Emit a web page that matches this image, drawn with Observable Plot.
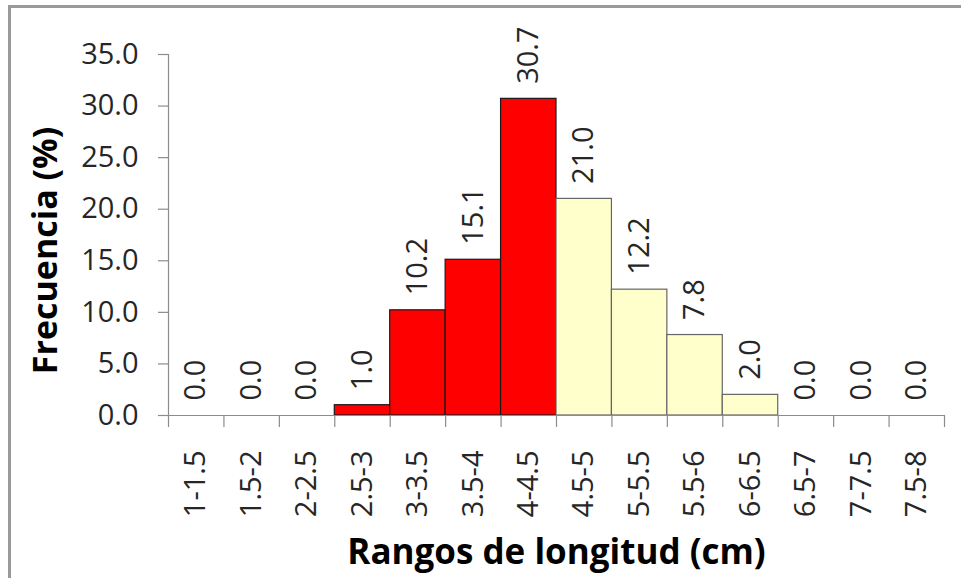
<!DOCTYPE html>
<html>
<head>
<meta charset="utf-8">
<script src="https://cdn.jsdelivr.net/npm/d3@7"></script>
<script src="https://cdn.jsdelivr.net/npm/@observablehq/plot@0.6"></script>
<style>
  html, body { margin: 0; padding: 0; background: #fff; }
  #wrap { position: relative; width: 961px; height: 578px; overflow: hidden; background: #fff; }
  #frame { position: absolute; left: 8px; top: 5px; width: 1000px; height: 1000px; border-left: 3px solid #9a9a9a; border-top: 3px solid #9a9a9a; box-sizing: border-box; pointer-events: none; }
  #chart { position: absolute; left: 0; top: 0; }
</style>
</head>
<body>
<div id="wrap"><div id="chart"></div><div id="frame"></div></div>
<script>
const categories = ["1-1.5","1.5-2","2-2.5","2.5-3","3-3.5","3.5-4","4-4.5","4.5-5","5-5.5","5.5-6","6-6.5","6.5-7","7-7.5","7.5-8"];
const values = [0.0, 0.0, 0.0, 1.0, 10.2, 15.1, 30.7, 21.0, 12.2, 7.8, 2.0, 0.0, 0.0, 0.0];
const groups = ["a","a","a","a","a","a","a","b","b","b","b","b","b","b"];
const yTicks = [0, 5, 10, 15, 20, 25, 30, 35];
const xTitle = "Rangos de longitud (cm)";
const yTitle = "Frecuencia (%)";

const data = categories.map((c, i) => ({cat: c, i, value: values[i], group: groups[i]}));
const font = "'Open Sans', sans-serif";

const chart = Plot.plot({
  width: 961,
  height: 578,
  marginLeft: 168,
  marginRight: 17,
  marginTop: 54,
  marginBottom: 163,
  style: {fontFamily: font, background: "transparent", overflow: "visible"},
  x: {domain: [0, categories.length], axis: null},
  y: {domain: [0, 35], axis: null},
  color: {domain: ["a", "b"], range: ["#ff0000", "#ffffcc"]},
  marks: [
    Plot.rectY(data, {x1: d => d.i, x2: d => d.i + 1, y1: 0, y2: "value", fill: "group",
      stroke: d => d.group === "a" ? "#1a1a1a" : "#666", strokeWidth: 1.2}),
    Plot.ruleY([0], {stroke: "#8c8c8c", strokeWidth: 1.2}),
    Plot.ruleX([0], {y1: 0, y2: 35, stroke: "#8c8c8c", strokeWidth: 1.2}),
    Plot.axisX({ticks: d3.range(categories.length + 1), tickFormat: () => "", tickSize: 12, stroke: "#8c8c8c", strokeWidth: 1.2, label: null}),
    Plot.axisY({ticks: yTicks, tickFormat: d => d.toFixed(1), tickSize: 10, tickPadding: 20, stroke: "#8c8c8c", strokeWidth: 1.2, fontSize: 29, fill: "#262626", label: null}),
    Plot.text(data, {x: d => d.i + 0.5, y: 0, text: "cat", rotate: -90, textAnchor: "end", lineAnchor: "middle", dy: 35, fontSize: 29, fill: "#262626"}),
    Plot.text(data, {x: d => d.i + 0.5, y: "value", text: d => d.value.toFixed(1), rotate: -90, textAnchor: "start", lineAnchor: "middle", dy: -15, fontSize: 29, fill: "#262626"}),
    Plot.text([xTitle], {frameAnchor: "bottom", textAnchor: "middle", lineAnchor: "bottom", dy: 148, fontSize: 35, fontWeight: "bold", fill: "#000"}),
    Plot.text([yTitle], {frameAnchor: "left", textAnchor: "middle", rotate: -90, lineAnchor: "bottom", dx: -112, dy: 15.5, fontSize: 34, fontWeight: "bold", fill: "#000"})
  ]
});
document.getElementById("chart").appendChild(chart);
</script>
</body>
</html>
